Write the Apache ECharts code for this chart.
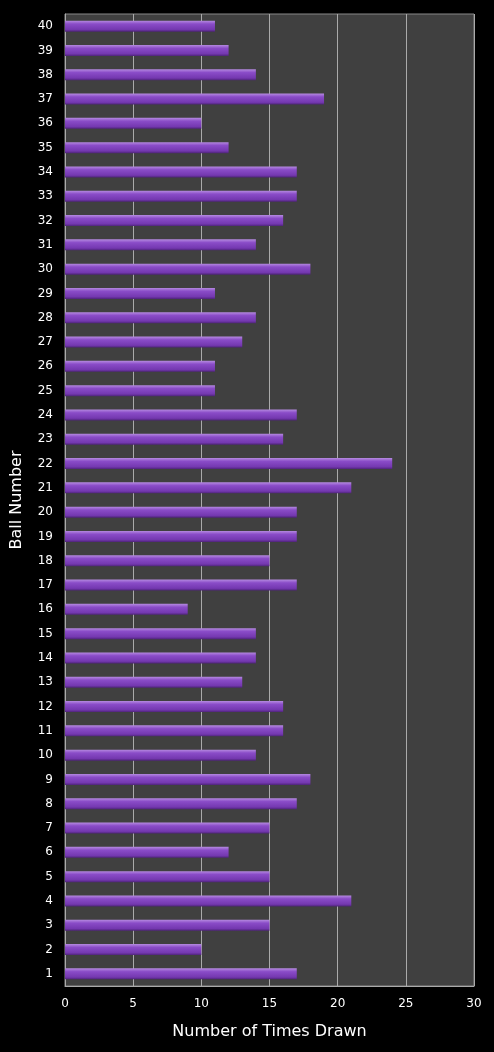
<!DOCTYPE html><html><head><meta charset="utf-8">
<script src="https://cdn.jsdelivr.net/npm/echarts@6/dist/echarts.min.js"></script>
<style>html,body{margin:0;background:#000}#c{width:494px;height:1052px}</style></head><body><div id="c"></div>
<script>
const balls=[];for(let i=1;i<=40;i++)balls.push(String(i));
const timesDrawn=[17,10,15,21,15,12,15,17,18,14,16,16,13,14,14,9,17,15,17,17,21,24,16,17,11,11,13,14,11,18,14,16,17,17,12,10,19,14,12,11];
const xTicks=[0,5,10,15,20,25,30];
const chart=echarts.init(document.getElementById('c'));
chart.setOption({
 backgroundColor:'#000',animation:false,
 grid:{left:65,right:20,top:14,bottom:66,show:true,backgroundColor:'#404040',borderColor:'#888',borderWidth:1},
 xAxis:{type:'value',min:0,max:30,interval:5,name:'Number of Times Drawn',nameLocation:'middle',nameGap:38,
  nameTextStyle:{color:'#fff',fontSize:16,fontFamily:'DejaVu Sans'},
  axisLabel:{color:'#fff',fontSize:12,fontFamily:'DejaVu Sans',margin:12},
  splitLine:{lineStyle:{color:'#aaa',width:1}},axisLine:{show:true,lineStyle:{color:'#aaa'}},axisTick:{show:false}},
 yAxis:{type:'category',data:balls,name:'Ball Number',nameLocation:'middle',nameGap:40,
  nameTextStyle:{color:'#fff',fontSize:16,fontFamily:'DejaVu Sans'},
  axisLabel:{color:'#fff',fontSize:12,fontFamily:'DejaVu Sans',margin:12},
  axisLine:{show:true,lineStyle:{color:'#aaa'}},axisTick:{show:false}},
 series:[{type:'bar',data:timesDrawn,barWidth:11,
  itemStyle:{color:new echarts.graphic.LinearGradient(0,0,0,1,[{offset:0,color:'#b58ae0'},{offset:0.3,color:'#8a4cc8'},{offset:0.8,color:'#7438b0'},{offset:1,color:'#4e2478'}])}}]
});
</script></body></html>
